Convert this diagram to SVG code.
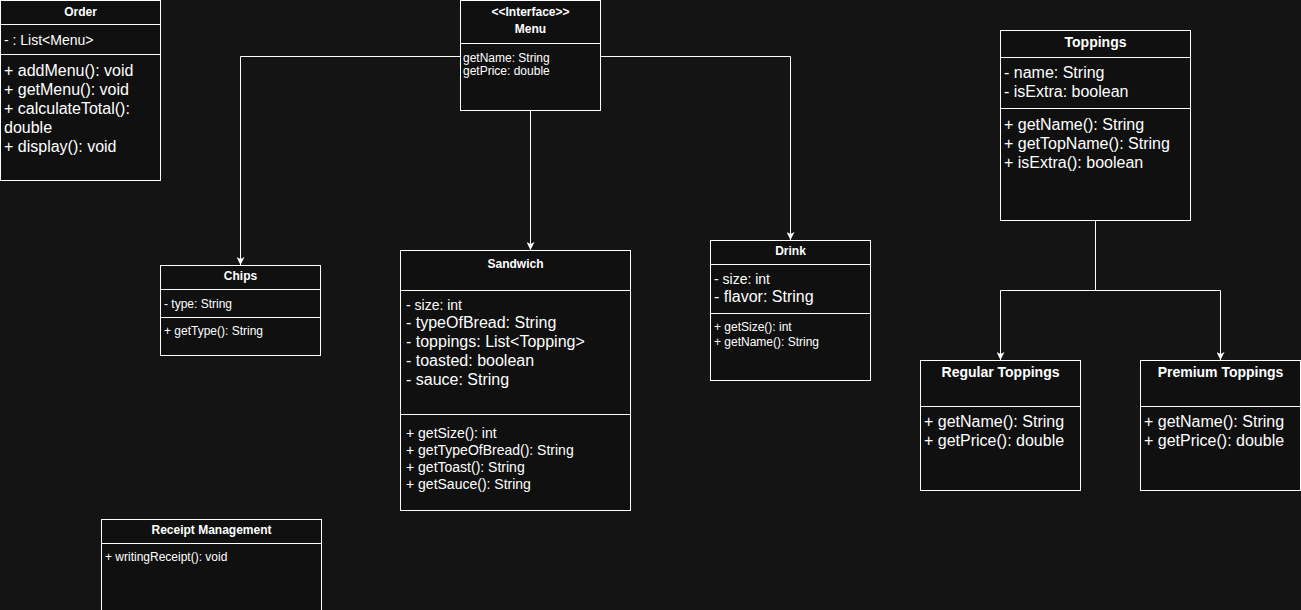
<svg xmlns="http://www.w3.org/2000/svg" width="1301" height="610" viewBox="0 0 1301 610">
<defs>
<style>
.box{fill:#101010;stroke:#ffffff;stroke-width:1}
.div{stroke:#ffffff;stroke-width:1}
text{fill:#ffffff;font-family:"Liberation Sans",Arial,Helvetica,sans-serif}
.t{font-weight:bold;font-size:12px;text-anchor:middle}
.t14{font-weight:bold;font-size:14px;text-anchor:middle}
.s12{font-size:12px}
.s14{font-size:14px}
.s16{font-size:16px}
.edge{fill:none;stroke:#ffffff;stroke-width:1}
</style>
<marker id="arr" viewBox="0 0 10 10" refX="10" refY="5" markerWidth="8" markerHeight="8" markerUnits="userSpaceOnUse" orient="auto">
<path d="M0,0 L10,5 L0,10 L2.5,5 Z" fill="#ffffff"/>
</marker>
</defs>
<rect width="1301" height="610" fill="#141414"/>

<g id="edges">
<path class="edge" d="M460.5,56.5 H240.5 V265" marker-end="url(#arr)"/>
<path class="edge" d="M530.5,110.5 V250" marker-end="url(#arr)"/>
<path class="edge" d="M600.5,56.5 H790.5 V240" marker-end="url(#arr)"/>
<path class="edge" d="M1095.5,220.5 V290.5 H1000.5 V360" marker-end="url(#arr)"/>
<path class="edge" d="M1095.5,290.5 H1220.5 V360" marker-end="url(#arr)"/>
</g>

<g id="order">
<rect class="box" x="0.5" y="0.5" width="160" height="180"/>
<line class="div" x1="0.5" y1="24.5" x2="160.5" y2="24.5"/>
<line class="div" x1="0.5" y1="54.5" x2="160.5" y2="54.5"/>
<text class="t" x="80.5" y="15.5">Order</text>
<text class="s14" x="4" y="45">- : List&lt;Menu&gt;</text>
<text class="s16" x="4" y="75.5">+ addMenu(): void</text>
<text class="s16" x="4" y="94.5">+ getMenu(): void</text>
<text class="s16" x="4" y="113.5">+ calculateTotal():</text>
<text class="s16" x="4" y="132.5">double</text>
<text class="s16" x="4" y="151.5">+ display(): void</text>
</g>

<g id="menu">
<rect class="box" x="460.5" y="0.5" width="140" height="110"/>
<line class="div" x1="460.5" y1="43.5" x2="600.5" y2="43.5"/>
<text class="t" x="530.5" y="16">&lt;&lt;Interface&gt;&gt;</text>
<text class="t" x="530.5" y="33">Menu</text>
<text class="s12" x="463" y="61.5">getName: String</text>
<text class="s12" x="463" y="75">getPrice: double</text>
</g>

<g id="toppings">
<rect class="box" x="1000.5" y="30.5" width="190" height="190"/>
<line class="div" x1="1000.5" y1="57.5" x2="1190.5" y2="57.5"/>
<line class="div" x1="1000.5" y1="108.5" x2="1190.5" y2="108.5"/>
<text class="t14" x="1095.5" y="47">Toppings</text>
<text class="s16" x="1004" y="78.3">- name: String</text>
<text class="s16" x="1004" y="97.3">- isExtra: boolean</text>
<text class="s16" x="1004" y="129.6">+ getName(): String</text>
<text class="s16" x="1004" y="148.6">+ getTopName(): String</text>
<text class="s16" x="1004" y="167.6">+ isExtra(): boolean</text>
</g>

<g id="chips">
<rect class="box" x="160.5" y="265.5" width="160" height="90"/>
<line class="div" x1="160.5" y1="289.5" x2="320.5" y2="289.5"/>
<line class="div" x1="160.5" y1="317.5" x2="320.5" y2="317.5"/>
<text class="t" x="240.5" y="280">Chips</text>
<text class="s12" x="164" y="307.5">- type: String</text>
<text class="s12" x="164" y="335">+ getType(): String</text>
</g>

<g id="sandwich">
<rect class="box" x="400.5" y="250.5" width="230" height="260"/>
<line class="div" x1="400.5" y1="290.5" x2="630.5" y2="290.5"/>
<line class="div" x1="400.5" y1="414.5" x2="630.5" y2="414.5"/>
<text class="t" x="515.5" y="268.2">Sandwich</text>
<text class="s14" x="406" y="310">- size: int</text>
<text class="s16" x="406" y="328">- typeOfBread: String</text>
<text class="s16" x="406" y="347">- toppings: List&lt;Topping&gt;</text>
<text class="s16" x="406" y="366">- toasted: boolean</text>
<text class="s16" x="406" y="385">- sauce: String</text>
<text class="s14" x="406" y="438.2">+ getSize(): int</text>
<text class="s14" x="406" y="455.2">+ getTypeOfBread(): String</text>
<text class="s14" x="406" y="472.2">+ getToast(): String</text>
<text class="s14" x="406" y="488.6">+ getSauce(): String</text>
</g>

<g id="drink">
<rect class="box" x="710.5" y="240.5" width="160" height="140"/>
<line class="div" x1="710.5" y1="264.5" x2="870.5" y2="264.5"/>
<line class="div" x1="710.5" y1="313.5" x2="870.5" y2="313.5"/>
<text class="t" x="790.5" y="255">Drink</text>
<text class="s14" x="714" y="284.2">- size: int</text>
<text class="s16" x="714" y="302.3">- flavor: String</text>
<text class="s12" x="714" y="331">+ getSize(): int</text>
<text class="s12" x="714" y="346">+ getName(): String</text>
</g>

<g id="regular">
<rect class="box" x="920.5" y="360.5" width="160" height="130"/>
<line class="div" x1="920.5" y1="406.5" x2="1080.5" y2="406.5"/>
<text class="t14" x="1000.5" y="377.2">Regular Toppings</text>
<text class="s16" x="924" y="427.3">+ getName(): String</text>
<text class="s16" x="924" y="446.3">+ getPrice(): double</text>
</g>

<g id="premium">
<rect class="box" x="1140.5" y="360.5" width="160" height="130"/>
<line class="div" x1="1140.5" y1="406.5" x2="1300.5" y2="406.5"/>
<text class="t14" x="1220.5" y="377.2">Premium Toppings</text>
<text class="s16" x="1144" y="427.3">+ getName(): String</text>
<text class="s16" x="1144" y="446.3">+ getPrice(): double</text>
</g>

<g id="receipt">
<rect class="box" x="101.5" y="519.5" width="220" height="100"/>
<line class="div" x1="101.5" y1="543.5" x2="321.5" y2="543.5"/>
<text class="t" x="211.5" y="534.2">Receipt Management</text>
<text class="s12" x="105" y="560.9">+ writingReceipt(): void</text>
</g>
</svg>
